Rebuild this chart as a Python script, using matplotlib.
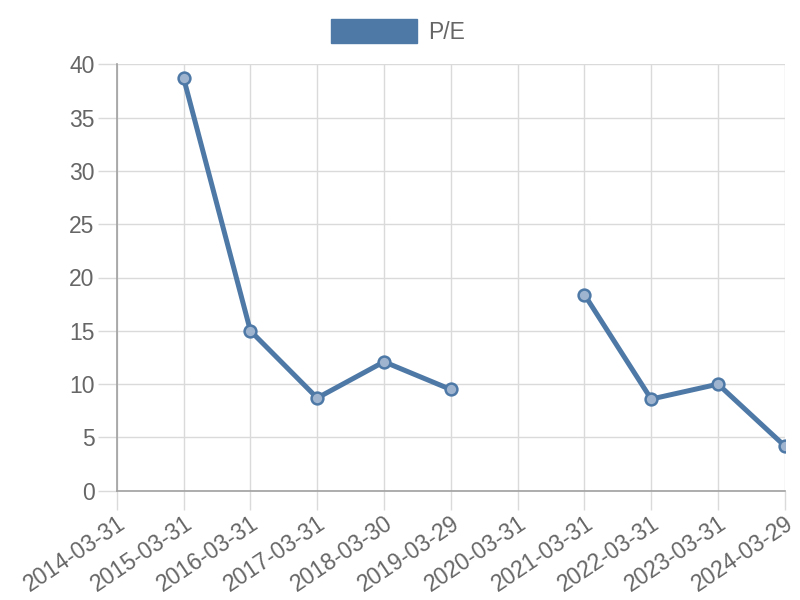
import numpy as np
import matplotlib
matplotlib.use("Agg")
import matplotlib.pyplot as plt
from matplotlib.patches import Patch

plt.rcParams['font.family'] = ['Liberation Sans', 'DejaVu Sans']

# data (None = no value)
dates = ['2014-03-31', '2015-03-31', '2016-03-31', '2017-03-31', '2018-03-30',
         '2019-03-29', '2020-03-31', '2021-03-31', '2022-03-31', '2023-03-31',
         '2024-03-29']
pe = [None, 38.7, 15.0, 8.7, 12.1, 9.5, None, 18.4, 8.6, 10.0, 4.2]

line_col = '#4e79a7'
grid_col = '#dadada'
axis_col = '#a0a0a0'
text_col = '#666666'
fsize = 16.5

fig = plt.figure(figsize=(8, 6), dpi=100)
ax = fig.add_axes([0.146, 0.182, 0.835, 0.711])

x = np.arange(len(dates))
y = np.array([np.nan if v is None else v for v in pe], dtype=float)

ax.plot(x, y, color=line_col, lw=3.6, solid_capstyle='round', zorder=3)
ax.plot(x, y, 'o', ms=8.5, mfc='#9fb4cf', mec=line_col, mew=1.8, zorder=4)

ax.set_xlim(0, len(dates) - 1)
ax.set_ylim(0, 40)
ax.set_yticks(np.arange(0, 41, 5))
ax.set_xticks(x)
ax.set_xticklabels(dates, rotation=34, ha='right', rotation_mode='anchor')

ax.grid(True, color=grid_col, lw=1)
ax.set_axisbelow(True)
for s in ['top', 'right']:
    ax.spines[s].set_visible(False)
for s in ['left', 'bottom']:
    ax.spines[s].set_color(axis_col)
    ax.spines[s].set_linewidth(1.2)
ax.tick_params(axis='both', colors=grid_col, labelcolor=text_col,
               labelsize=fsize, length=14, width=1)
ax.tick_params(axis='x', pad=1)
ax.tick_params(axis='y', pad=2)
# ticks continuing the axis lines are darker
ax.xaxis.get_major_ticks()[0].tick1line.set_color(axis_col)
ax.yaxis.get_major_ticks()[0].tick1line.set_color(axis_col)

leg = fig.legend(handles=[Patch(facecolor=line_col, edgecolor=line_col)],
                 labels=['P/E'], loc='center', bbox_to_anchor=(0.4975, 0.948),
                 frameon=False, fontsize=fsize, handlelength=3.75, handleheight=1.27,
                 handletextpad=0.45)
for t in leg.get_texts():
    t.set_color(text_col)

fig.savefig('out.png', dpi=100)
